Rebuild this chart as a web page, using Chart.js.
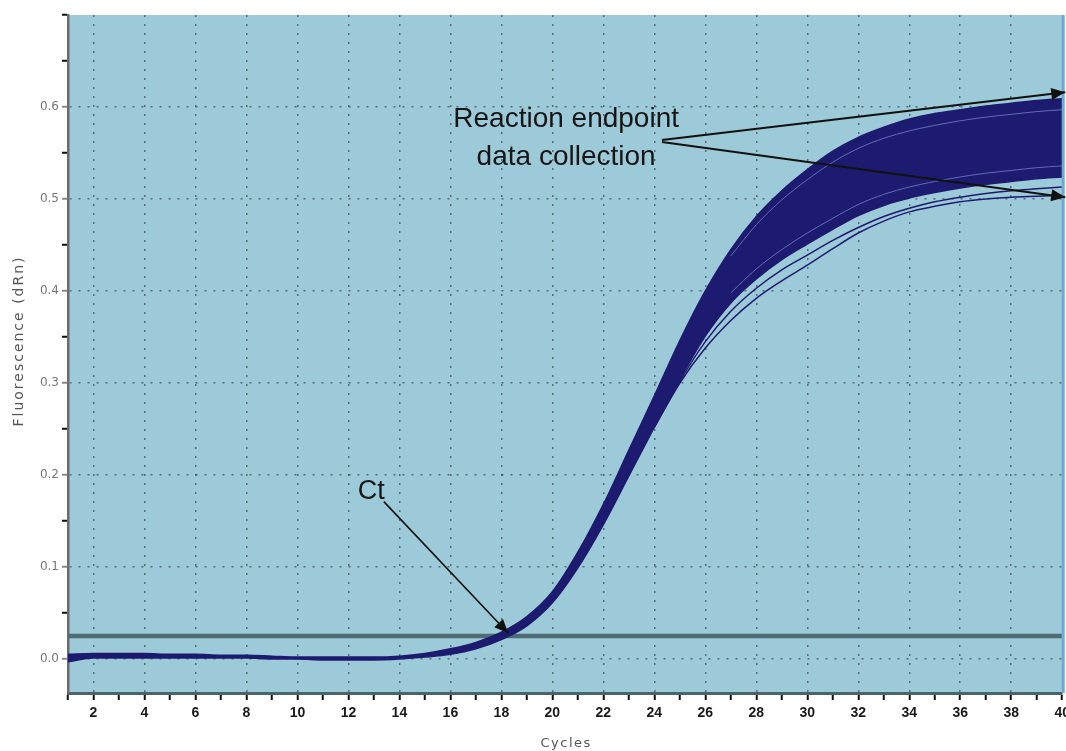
<!DOCTYPE html>
<html>
<head>
<meta charset="utf-8">
<style>
html,body{margin:0;padding:0;overflow:hidden;background:#fff;width:1066px;height:751px}
#wrap{position:absolute;left:0;top:0;width:1075px;height:751px}
canvas{display:block}
</style>
<script src="https://cdn.jsdelivr.net/npm/chart.js@4"></script>
</head>
<body>
<div id="wrap"><canvas id="c" width="1075" height="751" style="width:1075px;height:751px"></canvas></div>
<script>
// ---------- data ----------
const cycles = [1,2,3,4,5,6,7,8,9,10,11,12,13,14,15,16,17,18,19,20,21,22,23,24,25,26,27,28,29,30,31,32,33,34,35,36,37,38,39,40];
// upper envelope of the dense bundle of amplification curves
const bandTop = [0.005,0.006,0.006,0.006,0.005,0.005,0.004,0.004,0.003,0.002,0.002,0.002,0.002,0.003,0.006,0.011,0.018,0.029,0.046,0.073,0.116,0.168,0.227,0.286,0.346,0.400,0.445,0.481,0.509,0.532,0.552,0.567,0.578,0.587,0.593,0.597,0.601,0.604,0.607,0.609];
// lower envelope of the dense bundle
const bandBottom = [-0.003,0.001,0.001,0.001,0.001,0.001,0.001,0.001,0.000,0.000,-0.001,-0.001,-0.001,0.000,0.002,0.005,0.011,0.021,0.036,0.061,0.099,0.146,0.199,0.252,0.304,0.351,0.387,0.413,0.434,0.451,0.467,0.482,0.493,0.501,0.507,0.512,0.516,0.519,0.522,0.524];
// separate low curves
const lowCycles = [24,25,26,27,28,29,30,31,32,33,34,35,36,37,38,39,40];
const lowestCurve = [0.252,0.300,0.338,0.368,0.392,0.411,0.428,0.446,0.463,0.476,0.486,0.492,0.497,0.500,0.502,0.503,0.504];
const secondLowCurve = [0.252,0.302,0.345,0.378,0.403,0.423,0.439,0.455,0.469,0.481,0.490,0.497,0.502,0.506,0.509,0.511,0.513];
// light streaks between curves inside the bundle
const streakCycles = [27,28,29,30,31,32,33,34,35,36,37,38,39,40];
const streakUpper = [0.438,0.472,0.499,0.521,0.540,0.555,0.566,0.574,0.580,0.585,0.589,0.592,0.595,0.597];
const streakLower = [0.398,0.424,0.445,0.463,0.479,0.494,0.505,0.513,0.519,0.524,0.528,0.531,0.534,0.536];
// threshold
const thresholdValue = 0.025;
const thresholdCycles = [1,40];
// ticks
const xTickValues = [1,2,3,4,5,6,7,8,9,10,11,12,13,14,15,16,17,18,19,20,21,22,23,24,25,26,27,28,29,30,31,32,33,34,35,36,37,38,39,40];
const yTickValues = [0,0.05,0.1,0.15,0.2,0.25,0.3,0.35,0.4,0.45,0.5,0.55,0.6,0.65,0.7];
// text
const yTitle = 'Fluorescence (dRn)';
const xTitle = 'Cycles';
const annoLine1 = 'Reaction endpoint';
const annoLine2 = 'data collection';
const ctLabel = 'Ct';

// ---------- styling ----------
const NAVY = '#1d1b6f';
const BG = '#9dcad8';
const DOT = 'rgba(55,70,80,0.7)';
const NONE = 'rgba(0,0,0,0)';

const pts = (xs, ys) => xs.map((x, i) => ({x: x, y: ys[i]}));
const isTenth = v => Math.abs(v * 10 - Math.round(v * 10)) < 1e-6;

const bgPlugin = {
  id: 'bg',
  beforeDraw(chart) {
    const {ctx, chartArea: a} = chart;
    ctx.save();
    ctx.fillStyle = BG;
    ctx.fillRect(a.left, a.top, a.right - a.left, a.bottom - a.top);
    ctx.restore();
  }
};

function arrow(ctx, x0, y0, x1, y1) {
  ctx.beginPath();
  ctx.moveTo(x0, y0);
  ctx.lineTo(x1, y1);
  ctx.stroke();
  const ang = Math.atan2(y1 - y0, x1 - x0);
  const L = 14, W = 6;
  ctx.beginPath();
  ctx.moveTo(x1, y1);
  ctx.lineTo(x1 - L * Math.cos(ang) + W * Math.sin(ang), y1 - L * Math.sin(ang) - W * Math.cos(ang));
  ctx.lineTo(x1 - L * Math.cos(ang) - W * Math.sin(ang), y1 - L * Math.sin(ang) + W * Math.cos(ang));
  ctx.closePath();
  ctx.fill();
}

const annoPlugin = {
  id: 'anno',
  afterDraw(chart) {
    const {ctx, chartArea: a} = chart;
    const xs = chart.scales.x, ys = chart.scales.y;
    const X = v => xs.getPixelForValue(v), Y = v => ys.getPixelForValue(v);
    ctx.save();
    // right edge line
    ctx.strokeStyle = '#6fa8d8';
    ctx.lineWidth = 3;
    ctx.beginPath(); ctx.moveTo(a.right + 1, a.top); ctx.lineTo(a.right + 1, a.bottom); ctx.stroke();

    // annotation texts
    ctx.fillStyle = '#161616';
    ctx.strokeStyle = '#111';
    ctx.font = '28px "Liberation Sans", Arial, sans-serif';
    ctx.textAlign = 'center';
    ctx.textBaseline = 'alphabetic';
    ctx.fillText(annoLine1, X(20.54), Y(0.578));
    ctx.fillText(annoLine2, X(20.54), Y(0.537));
    ctx.font = '27px "Liberation Sans", Arial, sans-serif';
    ctx.textAlign = 'left';
    ctx.fillText(ctLabel, X(12.37), Y(0.174));

    // arrows
    ctx.lineWidth = 2;
    ctx.fillStyle = '#111';
    arrow(ctx, X(24.3), Y(0.564), X(40.12), Y(0.616));
    arrow(ctx, X(24.3), Y(0.562), X(40.12), Y(0.502));
    ctx.lineWidth = 1.6;
    arrow(ctx, X(13.39), Y(0.171), X(18.27), Y(0.028));

    // axis titles
    ctx.fillStyle = '#555';
    ctx.font = '14px "DejaVu Sans", sans-serif';
    try { ctx.letterSpacing = '2px'; } catch (e) {}
    ctx.textAlign = 'center';
    ctx.textBaseline = 'middle';
    ctx.save();
    ctx.translate(19, 341);
    ctx.rotate(-Math.PI / 2);
    ctx.fillText(yTitle, 0, 0);
    ctx.restore();
    ctx.font = '13px "DejaVu Sans", sans-serif';
    try { ctx.letterSpacing = '1.5px'; } catch (e) {}
    ctx.fillText(xTitle, X(20.54), 744);
    try { ctx.letterSpacing = '0px'; } catch (e) {}
    ctx.restore();
  }
};

const lineBase = {pointRadius: 0, pointHoverRadius: 0, cubicInterpolationMode: 'monotone', fill: false};

new Chart(document.getElementById('c'), {
  type: 'line',
  data: {
    datasets: [
      Object.assign({}, lineBase, {data: pts(streakCycles, streakUpper), borderColor: 'rgba(125,140,210,0.7)', borderWidth: 1}),
      Object.assign({}, lineBase, {data: pts(streakCycles, streakLower), borderColor: 'rgba(125,140,210,0.7)', borderWidth: 1}),
      Object.assign({}, lineBase, {data: pts(cycles, bandTop), borderColor: NAVY, borderWidth: 1.5}),
      Object.assign({}, lineBase, {data: pts(cycles, bandBottom), borderColor: NAVY, borderWidth: 1.5, fill: {target: 2}, backgroundColor: NAVY}),
      Object.assign({}, lineBase, {data: pts(lowCycles, secondLowCurve), borderColor: NAVY, borderWidth: 1.5}),
      Object.assign({}, lineBase, {data: pts(lowCycles, lowestCurve), borderColor: NAVY, borderWidth: 1.5}),
      Object.assign({}, lineBase, {data: pts(thresholdCycles, thresholdCycles.map(() => thresholdValue)), borderColor: '#4f6b74', borderWidth: 4.5, cubicInterpolationMode: 'default', tension: 0})
    ]
  },
  options: {
    responsive: false,
    animation: false,
    events: [],
    layout: {padding: {top: 15, right: 8, left: 0, bottom: 0}},
    plugins: {legend: {display: false}, tooltip: {enabled: false}, title: {display: false}},
    scales: {
      x: {
        type: 'linear', min: 1, max: 40,
        afterBuildTicks: s => { s.ticks = xTickValues.map(v => ({value: v})); },
        afterFit: s => { s.height = 58; },
        grid: {
          color: c => (c.tick && c.tick.value % 2 === 0 && c.tick.value < 40) ? DOT : NONE,
          lineWidth: 1.5, drawTicks: true, tickLength: 7,
          tickColor: '#111', tickWidth: 2
        },
        border: {display: true, color: '#4b636b', width: 3, dash: [2, 7]},
        ticks: {
          autoSkip: false, maxRotation: 0, minRotation: 0, padding: 5,
          color: '#1a1a1a',
          font: {family: '"Liberation Sans Narrow", "Liberation Sans", Arial, sans-serif', size: 14, weight: 'bold'},
          callback: v => (v % 2 === 0 ? String(v) : '')
        }
      },
      y: {
        type: 'linear', min: -0.037, max: 0.7,
        afterBuildTicks: s => { s.ticks = yTickValues.map(v => ({value: v})); },
        afterFit: s => { s.width = 68; },
        grid: {
          color: c => (c.tick && isTenth(c.tick.value) && c.tick.value < 0.65) ? DOT : NONE,
          lineWidth: 1.5, drawTicks: true, tickLength: 6,
          tickColor: c => (c.tick && isTenth(c.tick.value) && c.tick.value < 0.65) ? '#888' : '#111',
          tickWidth: 2
        },
        border: {display: true, color: '#6b6b6b', width: 2.5, dash: [2, 7]},
        ticks: {
          autoSkip: false, padding: 3,
          color: '#777',
          font: {family: '"DejaVu Sans", sans-serif', size: 12},
          callback: v => (isTenth(v) && v < 0.65 ? v.toFixed(1) : '')
        }
      }
    }
  },
  plugins: [bgPlugin, annoPlugin]
});
</script>
</body>
</html>
